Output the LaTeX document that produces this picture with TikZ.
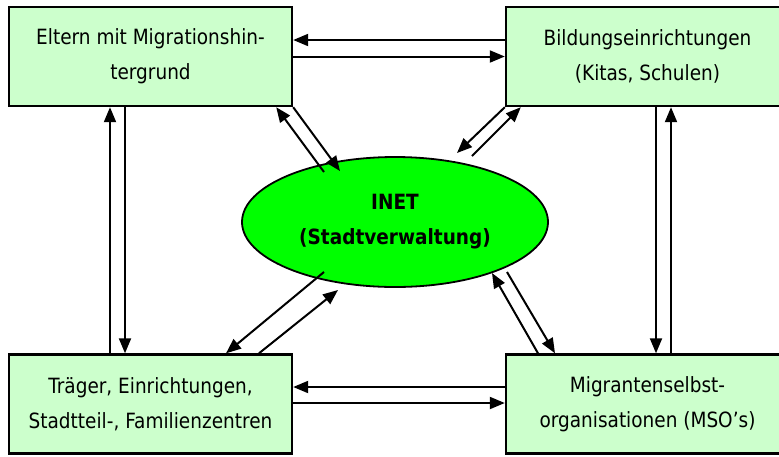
\documentclass[tikz,border=0pt]{standalone}
\usepackage{fontspec}
\setmainfont{DejaVu Sans}[FakeStretch=0.88]
\usetikzlibrary{arrows.meta,shapes.geometric}
\definecolor{boxfill}{HTML}{CCFFCC}
\definecolor{ellfill}{HTML}{00FF00}
\begin{document}
\begin{tikzpicture}[x=1pt,y=-1pt,
  box/.style={draw=black,line width=2.4pt,fill=boxfill,rectangle,minimum width=283pt,minimum height=99pt,inner sep=0pt,align=center,font=\fontsize{21}{35}\selectfont},
  inet/.style={draw=black,line width=1.8pt,fill=ellfill,ellipse,minimum width=306pt,minimum height=130pt,inner sep=0pt,align=center,font=\fontsize{21}{35}\selectfont\bfseries},
  arr/.style={line width=2pt,-{Triangle[length=15pt,width=12pt]}}]
\useasboundingbox (0,0) rectangle (779,456);
\clip (0,0) rectangle (779,456);
\node[box] (tl) at (150.5,56.5) {Eltern mit Migrationshin-\\tergrund};
\node[box] (tr) at (647.5,56.5) {Bildungseinrichtungen\\(Kitas, Schulen)};
\node[box] (bl) at (150.5,404) {Träger, Einrichtungen,\\Stadtteil-, Familienzentren};
\node[box] (br) at (647.5,404) {Migrantenselbst-\\organisationen (MSO’s)};
\node[inet] (inet) at (395,222) {INET\\(Stadtverwaltung)};
% named free ends near the ellipse
\coordinate (e1) at (324,172);
\coordinate (e2) at (340,171);
\coordinate (e3) at (457,153);
\coordinate (e4) at (472,156);
\coordinate (e5) at (324,272);
\coordinate (e6) at (338,290);
\coordinate (e7) at (492,273);
\coordinate (e8) at (507,272);
% horizontal
\draw[arr] ([yshift=16.5pt]tr.west) -- ([yshift=16.5pt]tl.east);
\draw[arr] (tl.east) -- (tr.west);
\draw[arr] ([yshift=17pt]br.west) -- ([yshift=17pt]bl.east);
\draw[arr] ([yshift=1pt]bl.east) -- ([yshift=1pt]br.west);
% vertical
\draw[arr] ([xshift=-40.5pt]bl.north) -- ([xshift=-40.5pt]tl.south);
\draw[arr] ([xshift=-25.5pt]tl.south) -- ([xshift=-25.5pt]bl.north);
\draw[arr] ([xshift=8.5pt]tr.south) -- ([xshift=8.5pt]br.north);
\draw[arr] ([xshift=23.5pt]br.north) -- ([xshift=23.5pt]tr.south);
% diagonals
\draw[arr] (e1) -- ([xshift=-17pt]tl.south east);
\draw[arr] (tl.south east) -- (e2);
\draw[arr] (tr.south west) -- (e3);
\draw[arr] (e4) -- ([xshift=16pt]tr.south west);
\draw[arr] (e5) -- ([xshift=75.5pt]bl.north);
\draw[arr] ([xshift=108.5pt]bl.north) -- (e6);
\draw[arr] ([xshift=-109.5pt]br.north) -- (e7);
\draw[arr] (e8) -- ([xshift=-92.5pt]br.north);
\end{tikzpicture}
\end{document}
